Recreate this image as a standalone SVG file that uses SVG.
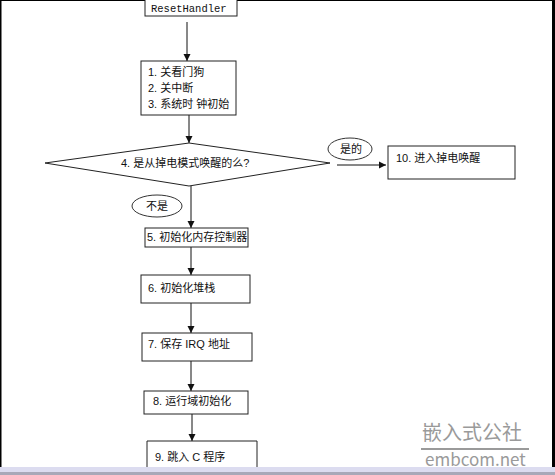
<svg xmlns="http://www.w3.org/2000/svg" width="555" height="475" viewBox="0 0 555 475">
<style>
.box{fill:#fff;stroke:#222;stroke-width:1}
.ell{fill:#fff;stroke:#333;stroke-width:1}
.t{font-family:"Liberation Sans","Noto Sans CJK SC",sans-serif;font-size:11px;fill:#111}
.m{font-family:"Liberation Mono","DejaVu Sans Mono",monospace;font-size:10.5px;fill:#111}
.c{stroke:#111;stroke-width:1;fill:none;marker-end:url(#ah)}
.wm{font-family:"Noto Sans CJK SC","Liberation Sans",sans-serif;fill:#9a9a9a}
</style>
<defs>
<marker id="ah" markerWidth="8" markerHeight="8" refX="7" refY="4" orient="auto" markerUnits="userSpaceOnUse">
<path d="M0,0.5 L7,4 L0,7.5 Z" fill="#111"/>
</marker>
</defs>
<rect x="0" y="0" width="555" height="475" fill="#fff"/>
<g id="frame">
<line x1="0.75" y1="0" x2="0.75" y2="472" stroke="#000" stroke-width="1.5"/>
<line x1="0" y1="0.5" x2="555" y2="0.5" stroke="#000" stroke-width="1"/>
<rect x="552" y="0" width="3" height="472" fill="#000"/>
<rect x="0" y="467" width="555" height="5" fill="#dcdcf0"/>
<rect x="0" y="472" width="555" height="3" fill="#a8a8b8"/>
</g>
<g id="connectors">
<line class="c" x1="187" y1="22" x2="187" y2="61"/>
<line class="c" x1="189" y1="115" x2="189" y2="143"/>
<line class="c" x1="337" y1="165" x2="386" y2="165"/>
<line class="c" x1="191" y1="186" x2="191" y2="228"/>
<line class="c" x1="191" y1="247" x2="191" y2="275"/>
<line class="c" x1="191" y1="303" x2="191" y2="333"/>
<line class="c" x1="191" y1="361" x2="191" y2="391"/>
<line class="c" x1="192" y1="414" x2="192" y2="441"/>
</g>
<g id="n0"><rect class="box" x="145" y="-2" width="92" height="18"/><text class="m" x="151" y="12">ResetHandler</text></g>
<g id="n1"><rect class="box" x="141" y="61" width="95" height="54"/>
<text class="t" x="148" y="76">1. 关看门狗</text>
<text class="t" x="148" y="92">2. 关中断</text>
<text class="t" x="148" y="108">3. 系统时 钟初始</text></g>
<g id="n4"><polygon class="box" points="189,143 330,163 189,186 45,163"/>
<text class="t" x="121" y="167">4. 是从掉电模式唤醒的么?</text></g>
<g id="lbl_yes"><ellipse class="ell" cx="350" cy="149" rx="22" ry="11"/><text class="t" x="340" y="153">是的</text></g>
<g id="n10"><rect class="box" x="388" y="146" width="127" height="33"/><text class="t" x="396" y="162">10. 进入掉电唤醒</text></g>
<g id="lbl_no"><ellipse class="ell" cx="157" cy="206" rx="25" ry="11"/><text class="t" x="146" y="210">不是</text></g>
<g id="n5"><rect class="box" x="145" y="228" width="103" height="19"/><text class="t" x="147" y="241">5. 初始化内存控制器</text></g>
<g id="n6"><rect class="box" x="141" y="275" width="109" height="28"/><text class="t" x="148" y="292">6. 初始化堆栈</text></g>
<g id="n7"><rect class="box" x="142" y="333" width="110" height="28"/><text class="t" x="148" y="348">7. 保存 IRQ 地址</text></g>
<g id="n8"><rect class="box" x="144" y="391" width="104" height="23"/><text class="t" x="153" y="405">8. 运行域初始化</text></g>
<g id="n9"><path class="box" d="M147,467 L147,441 L257,441 L257,467"/><text class="t" x="155" y="461">9. 跳入 C 程序</text></g>
<g id="watermark">
<text class="wm" x="422" y="440" font-size="20">嵌入式公社</text>
<line x1="421" y1="449" x2="529" y2="449" stroke="#9a9a9a" stroke-width="2"/>
<text class="wm" x="425" y="466" font-size="17" font-family="Liberation Sans,sans-serif">embcom.net</text>
</g>
</svg>
